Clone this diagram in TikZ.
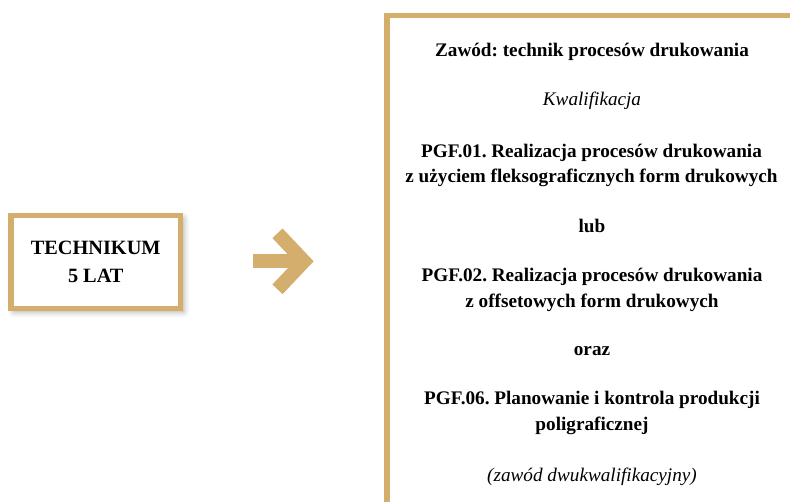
\documentclass[tikz,border=0pt]{standalone}
\usepackage{fontspec}
\setmainfont{Liberation Serif}
\frenchspacing
\usetikzlibrary{positioning}
\usetikzlibrary{shadows.blur}
\definecolor{gold}{RGB}{211,174,108}
\tikzset{
    Box/.style = {draw=gold, line width=5.5pt, fill=white, align=center,
        blur shadow={shadow xshift=3pt, shadow yshift=-3pt, shadow blur radius=6pt, shadow opacity=35}}
}
\tikzset{
    Txt/.style = {align=center, anchor=base, inner sep=0pt, font=\bfseries\fontsize{19.2}{25.5}\selectfont}
}
\begin{document}
\begin{tikzpicture}[
    x=1pt, y=-1pt
]
\tikzset{
    Arrow/.style = {draw=gold, line width=14pt},
    Italic/.style = {Txt, font=\itshape\fontsize{19.2}{25.5}\selectfont},
}
\useasboundingbox (0,0) rectangle (790,502);
\clip (0,0) rectangle (790,502);
% left box
\node[Box, minimum width=169.5pt, minimum height=93pt, inner sep=0pt,
    font=\bfseries\fontsize{20.3}{27.6}\selectfont] at (95.75,262) (tech) {TECHNIKUM\\5 LAT};
% right box
\draw[Box] (387,15.5) rectangle (840,560);
% arrow
\coordinate (tail) at (252.7,261.3);
\coordinate (head) at (304,261.3);
\draw[Arrow] (tail) -- ([xshift=-4pt]head);
\draw[Arrow, line join=miter] (277.5,233.3) -- (head) -- (277.5,289.3);
% text (base = last line)
\node[Txt] at (592,56.5) (zawod) {Zawód: technik procesów drukowania};
\node[Italic] at (592,106) (kwal) {Kwalifikacja};
\node[Txt] at (591.5,183) (pgf01) {PGF.01. Realizacja procesów drukowania\\z użyciem fleksograficznych form drukowych};
\node[Txt] at (592,232.5) (lub) {lub};
\node[Txt] at (592,307.3) (pgf02) {PGF.02. Realizacja procesów drukowania\\z offsetowych form drukowych};
\node[Txt] at (592,356) (oraz) {oraz};
\node[Txt] at (592,430.5) (pgf06) {PGF.06. Planowanie i kontrola produkcji\\poligraficznej};
\node[Italic] at (592,481.5) (dwu) {(zawód dwukwalifikacyjny)};
\end{tikzpicture}
\end{document}
